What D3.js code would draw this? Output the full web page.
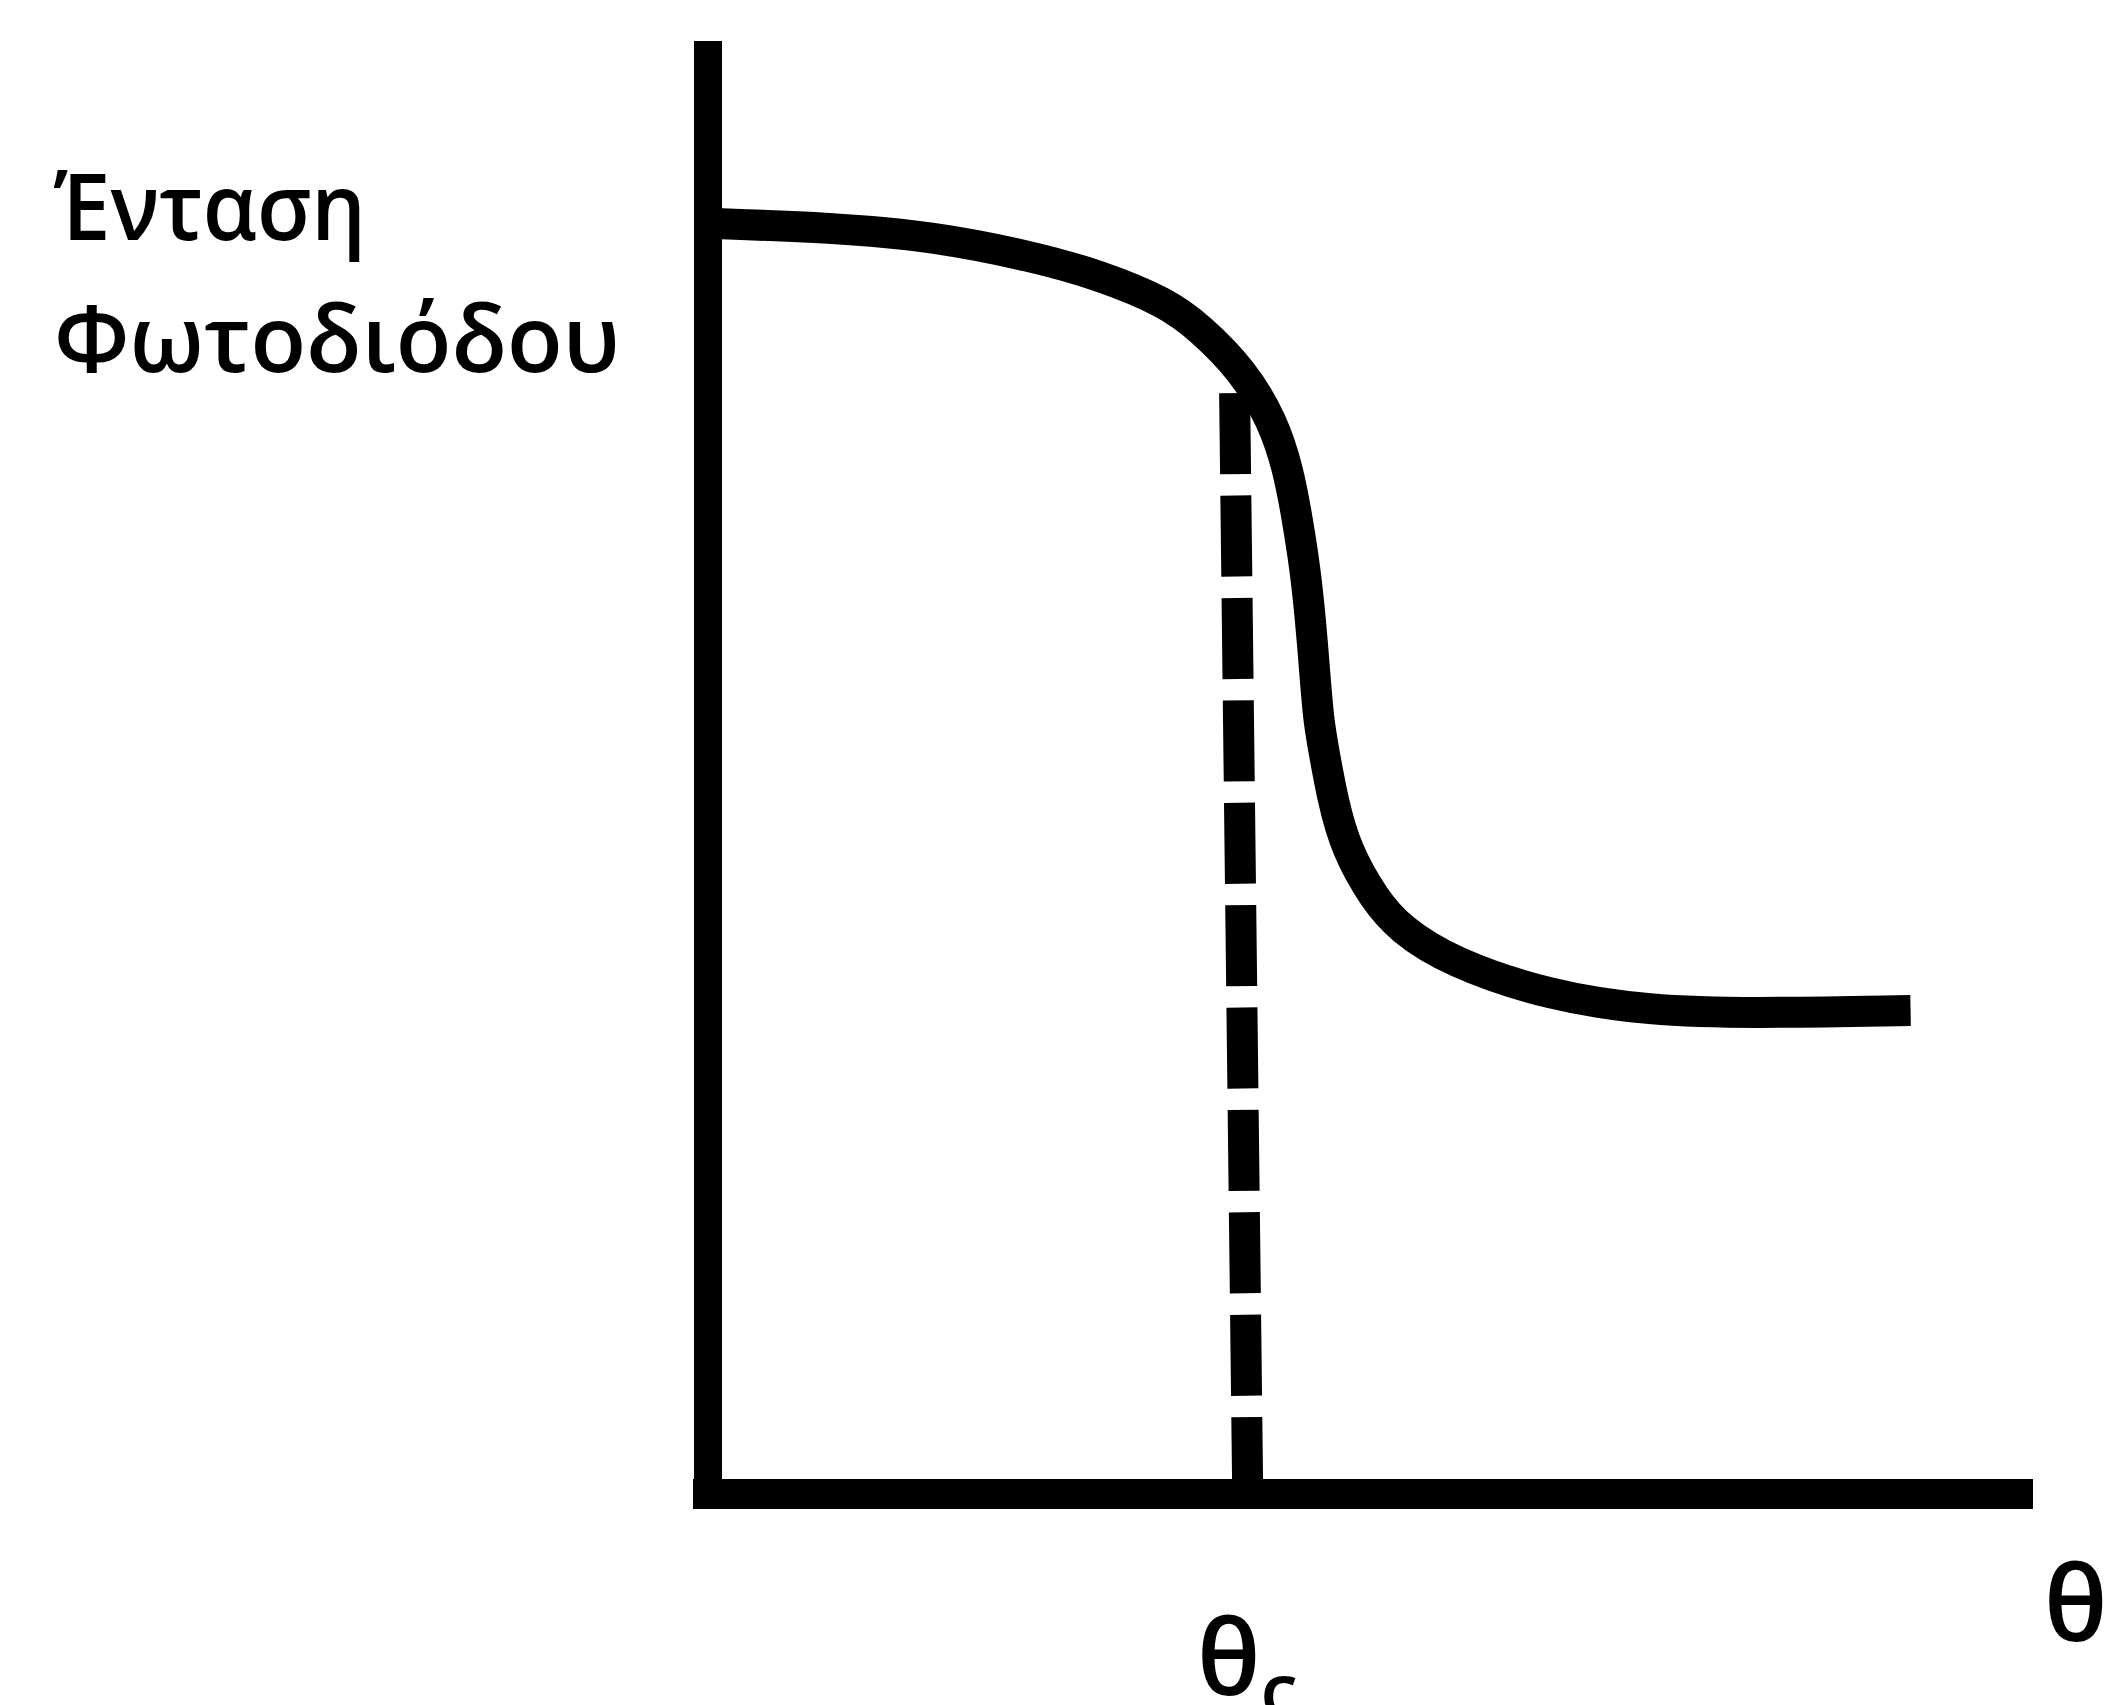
<!DOCTYPE html>
<html>
<head>
<meta charset="utf-8">
<script src="https://cdn.jsdelivr.net/npm/d3@7"></script>
<style>
  html, body { margin: 0; padding: 0; background: #fff; }
  svg { display: block; }
  text { font-family: "Open Sans", "Noto Sans", sans-serif; fill: #000; font-weight: 600; }
</style>
</head>
<body>
<svg id="chart" width="2115" height="1705"></svg>
<script>
// Photodiode intensity against incidence angle θ (arbitrary units, 0–100)
const curveTheta = [0, 9.5, 17.2, 24.8, 29.9, 35.0, 37.6, 40.8, 43.1, 44.3, 45.0, 45.6, 46.0, 46.3, 46.6, 47.0, 47.7, 48.7, 50.9, 52.8, 56.6, 64.3, 71.9, 79.5, 91.8];
const curveIntensity = [88.3, 88.0, 87.4, 86.0, 84.7, 82.8, 81.0, 78.1, 74.6, 71.2, 67.7, 64.2, 60.7, 57.3, 53.8, 51.7, 48.2, 44.8, 41.3, 39.3, 37.0, 34.6, 33.6, 33.4, 33.6];

// Dashed guide marking the critical angle θc (top point, foot on the axis)
const criticalTheta = [40.2, 41.2];
const criticalIntensity = [76.5, 0];

// Axis extents and labels
const thetaMax = 100;
const intensityMax = 100;
const yLabelLines = ["Ένταση", "Φωτοδιόδου"];
const xLabel = "θ";
const criticalLabel = "θ";
const criticalSub = "c";

const svg = d3.select("#chart");

const x = d3.scaleLinear().domain([0, thetaMax]).range([708, 2018]);
const y = d3.scaleLinear().domain([0, intensityMax]).range([1494, 55]);

const curvePoints = curveTheta.map((t, i) => [t, curveIntensity[i]]);
const guidePoints = criticalTheta.map((t, i) => [t, criticalIntensity[i]]);

const line = d3.line()
  .x(d => x(d[0]))
  .y(d => y(d[1]))
  .curve(d3.curveBasis);

// Intensity curve
svg.append("path")
  .datum(curvePoints)
  .attr("d", line)
  .attr("fill", "none")
  .attr("stroke", "#000")
  .attr("stroke-width", 31)
  .attr("stroke-linecap", "butt")
  .attr("stroke-linejoin", "round");

// Critical-angle dashed guide
svg.append("path")
  .datum(guidePoints)
  .attr("d", d3.line().x(d => x(d[0])).y(d => y(d[1])))
  .attr("fill", "none")
  .attr("stroke", "#000")
  .attr("stroke-width", 31)
  .attr("stroke-dasharray", "81,21.4");

// Axes
svg.append("line")
  .attr("x1", x(0)).attr("y1", y(intensityMax))
  .attr("x2", x(0)).attr("y2", y(0))
  .attr("stroke", "#000")
  .attr("stroke-width", 28)
  .attr("stroke-linecap", "square");

svg.append("line")
  .attr("x1", x(0)).attr("y1", y(0))
  .attr("x2", x(thetaMax)).attr("y2", y(0))
  .attr("stroke", "#000")
  .attr("stroke-width", 30)
  .attr("stroke-linecap", "square");

// Y-axis title, two lines
const yTitle = svg.append("g");
yTitle.append("text")
  .attr("x", 54).attr("y", 240)
  .attr("font-size", 92)
  .attr("textLength", 312)
  .attr("lengthAdjust", "spacingAndGlyphs")
  .text(yLabelLines[0]);
yTitle.append("text")
  .attr("x", 54).attr("y", 372)
  .attr("font-size", 92)
  .attr("textLength", 566)
  .attr("lengthAdjust", "spacingAndGlyphs")
  .text(yLabelLines[1]);

// X-axis title
svg.append("text")
  .attr("x", 2044).attr("y", 1641)
  .attr("font-size", 105)
  .text(xLabel);

// Critical angle label with subscript
const crit = svg.append("text")
  .attr("x", 1197).attr("y", 1695)
  .attr("font-size", 105);
crit.append("tspan").text(criticalLabel);
crit.append("tspan")
  .attr("font-size", 75)
  .attr("dy", 22)
  .text(criticalSub);
</script>
</body>
</html>
